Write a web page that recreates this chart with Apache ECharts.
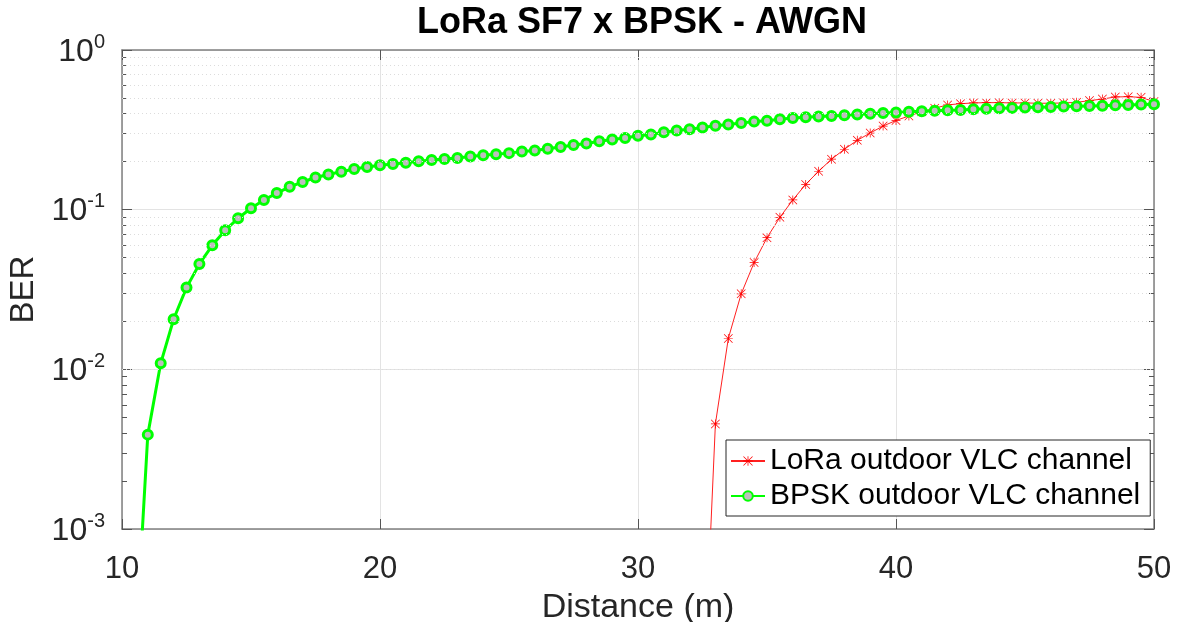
<!DOCTYPE html>
<html>
<head>
<meta charset="utf-8">
<script src="https://cdn.jsdelivr.net/npm/echarts@6/dist/echarts.min.js"></script>
<style>
html,body{margin:0;padding:0;background:#fff;}
#chart{width:1189px;height:622px;}
</style>
</head>
<body>
<div id="chart"></div>
<script>
// ---------------- data ----------------
const titleText = 'LoRa SF7 x BPSK - AWGN';
const xName = 'Distance (m)';
const yName = 'BER';
const seriesNames = ['LoRa outdoor VLC channel', 'BPSK outdoor VLC channel'];

const xTicks = [10, 20, 30, 40, 50];
const yMajorTicks = [0.001, 0.01, 0.1, 1];
const yMinorTicks = [0.002, 0.003, 0.004, 0.005, 0.006, 0.007, 0.008, 0.009,
                     0.02, 0.03, 0.04, 0.05, 0.06, 0.07, 0.08, 0.09,
                     0.2, 0.3, 0.4, 0.5, 0.6, 0.7, 0.8, 0.9];

// BPSK (green)
const distBPSK = [10.5, 11, 11.5, 12, 12.5, 13, 13.5, 14, 14.5, 15,
                  15.5, 16, 16.5, 17, 17.5, 18, 18.5, 19, 19.5, 20,
                  20.5, 21, 21.5, 22, 22.5, 23, 23.5, 24, 24.5, 25,
                  25.5, 26, 26.5, 27, 27.5, 28, 28.5, 29, 29.5, 30,
                  30.5, 31, 31.5, 32, 32.5, 33, 33.5, 34, 34.5, 35,
                  35.5, 36, 36.5, 37, 37.5, 38, 38.5, 39, 39.5, 40,
                  40.5, 41, 41.5, 42, 42.5, 43, 43.5, 44, 44.5, 45,
                  45.5, 46, 46.5, 47, 47.5, 48, 48.5, 49, 49.5, 50];
const berBPSK = [0.00015, 0.0039, 0.0109, 0.0206, 0.0325, 0.0457, 0.0598, 0.0743, 0.0883, 0.102,
                 0.115, 0.127, 0.139, 0.149, 0.159, 0.166, 0.173, 0.180, 0.185, 0.190,
                 0.193, 0.197, 0.201, 0.205, 0.208, 0.211, 0.215, 0.219, 0.222, 0.226,
                 0.231, 0.235, 0.241, 0.247, 0.254, 0.260, 0.268, 0.275, 0.281, 0.290,
                 0.296, 0.305, 0.313, 0.319, 0.327, 0.335, 0.342, 0.349, 0.356, 0.361,
                 0.368, 0.375, 0.379, 0.383, 0.386, 0.390, 0.394, 0.399, 0.403, 0.406,
                 0.411, 0.413, 0.417, 0.419, 0.421, 0.425, 0.428, 0.432, 0.434, 0.436,
                 0.438, 0.440, 0.442, 0.444, 0.446, 0.448, 0.450, 0.453, 0.455, 0.457];

// LoRa (red)
const distLoRa = [32.5, 33, 33.5, 34, 34.5, 35, 35.5, 36, 36.5, 37,
                  37.5, 38, 38.5, 39, 39.5, 40, 40.5, 41, 41.5, 42,
                  42.5, 43, 43.5, 44, 44.5, 45, 45.5, 46, 46.5, 47,
                  47.5, 48, 48.5, 49, 49.5, 50];
const berLoRa = [0.000067, 0.00455, 0.0156, 0.0297, 0.0466, 0.0668, 0.0896, 0.115, 0.144, 0.174,
                 0.207, 0.239, 0.272, 0.302, 0.334, 0.362, 0.386, 0.411, 0.432, 0.453,
                 0.461, 0.466, 0.468, 0.468, 0.466, 0.466, 0.464, 0.464, 0.466, 0.470,
                 0.482, 0.493, 0.508, 0.510, 0.505, 0.475];

// ---------------- styling ----------------
const FONT = 'Liberation Sans, Arial, Helvetica, sans-serif';
const TXT = '#262626';
const AXIS = '#808080';
const MAJORGRID = '#e3e3e3';
const MINORGRID = '#dcdcdc';

const asterisk = 'path://M9.2 0h1.6v20h-1.6z M0 9.2h20v1.6h-20z M1.1 0L20 18.9L18.9 20L0 1.1z M18.9 0L20 1.1L1.1 20L0 18.9z';

function logLabel(v) {
  const e = Math.round(Math.log10(v));
  return '{b|10}{s|' + e + '}';
}

const xMin = xTicks[0], xMax = xTicks[xTicks.length - 1];
const yMin = yMajorTicks[0], yMax = yMajorTicks[yMajorTicks.length - 1];

function yAxisBase(extra) {
  return Object.assign({
    type: 'log', logBase: 10, min: yMin, max: yMax, gridIndex: 0
  }, extra);
}

const option = {
  backgroundColor: '#ffffff',
  animation: false,
  title: {
    text: titleText,
    left: 642, top: 5, textAlign: 'center', padding: 0,
    textStyle: { fontFamily: FONT, fontSize: 36, fontWeight: 'bold', color: '#000' }
  },
  grid: { left: 122, right: 35, top: 50, bottom: 93, containLabel: false, outerBoundsMode: 'none' },
  legend: {
    orient: 'vertical',
    left: 726, top: 440,
    padding: [6, 10, 5, 4],
    itemGap: 5,
    itemWidth: 34, itemHeight: 12,
    backgroundColor: '#fff',
    borderColor: '#262626', borderWidth: 1,
    textStyle: { fontFamily: FONT, fontSize: 30, color: '#000' },
    data: seriesNames
  },
  xAxis: [
    {
      type: 'value', min: xMin, max: xMax, interval: 10, position: 'bottom',
      name: xName, nameLocation: 'middle', nameGap: 62,
      nameTextStyle: { fontFamily: FONT, fontSize: 34, color: TXT },
      axisLine: { show: true, onZero: false, lineStyle: { color: AXIS, width: 1.5 } },
      axisTick: { show: true, inside: true, length: 10, lineStyle: { color: '#555', width: 1 } },
      axisLabel: { fontFamily: FONT, fontSize: 31, color: TXT, margin: 25 },
      splitLine: { show: true, lineStyle: { color: MAJORGRID, width: 1 } }
    },
    {
      type: 'value', min: xMin, max: xMax, interval: 10, position: 'top',
      axisLine: { show: true, onZero: false, lineStyle: { color: AXIS, width: 1.5 } },
      axisTick: { show: true, inside: true, length: 10, lineStyle: { color: '#555', width: 1 } },
      axisLabel: { show: false },
      splitLine: { show: false }
    }
  ],
  yAxis: [
    yAxisBase({
      position: 'left',
      name: yName, nameLocation: 'middle', nameGap: 80,
      nameTextStyle: { fontFamily: FONT, fontSize: 33, color: TXT },
      axisLine: { show: true, lineStyle: { color: AXIS, width: 1.5 } },
      axisTick: { show: true, inside: true, length: 10, lineStyle: { color: '#555', width: 1 } },
      axisLabel: {
        margin: 17,
        formatter: logLabel,
        rich: {
          b: { fontFamily: FONT, fontSize: 32, color: TXT, lineHeight: 36, verticalAlign: 'bottom' },
          s: { fontFamily: FONT, fontSize: 20, color: TXT, lineHeight: 20, verticalAlign: 'top' }
        }
      },
      splitLine: { show: true, lineStyle: { color: MAJORGRID, width: 1 } }
    }),
    yAxisBase({
      position: 'right',
      axisLine: { show: true, lineStyle: { color: AXIS, width: 1.5 } },
      axisTick: { show: true, inside: true, length: 10, lineStyle: { color: '#555', width: 1 } },
      axisLabel: { show: false },
      splitLine: { show: false }
    }),
    yAxisBase({
      position: 'left',
      axisLine: { show: false },
      axisTick: { show: true, inside: true, length: 5, customValues: yMinorTicks, lineStyle: { color: '#555', width: 1 } },
      axisLabel: { show: false },
      splitLine: { show: false }
    }),
    yAxisBase({
      position: 'right',
      axisLine: { show: false },
      axisTick: { show: true, inside: true, length: 5, customValues: yMinorTicks, lineStyle: { color: '#555', width: 1 } },
      axisLabel: { show: false },
      splitLine: { show: false }
    })
  ],
  series: [
    {
      name: seriesNames[0],
      type: 'line',
      xAxisIndex: 0, yAxisIndex: 0,
      data: distLoRa.map((d, i) => [d, berLoRa[i]]),
      symbol: asterisk,
      symbolSize: 9,
      showAllSymbol: true,
      clip: true,
      lineStyle: { color: '#ff2020', width: 1 },
      itemStyle: { color: '#ff0000', borderWidth: 0 },
      z: 3,
      markLine: {
        silent: true,
        symbol: ['none', 'none'],
        label: { show: false },
        animation: false,
        lineStyle: { color: MINORGRID, type: [1, 3], width: 1 },
        data: yMinorTicks.map(v => ({ yAxis: v }))
      }
    },
    {
      name: seriesNames[1],
      type: 'line',
      xAxisIndex: 0, yAxisIndex: 0,
      data: distBPSK.map((d, i) => [d, berBPSK[i]]),
      symbol: 'circle',
      symbolSize: 9,
      showAllSymbol: true,
      clip: true,
      lineStyle: { color: '#00ff00', width: 3 },
      itemStyle: { color: '#bdbdbd', borderColor: '#00ff00', borderWidth: 3 },
      z: 4
    }
  ]
};

const chart = echarts.init(document.getElementById('chart'), null, { renderer: 'canvas' });
chart.setOption(option);
</script>
</body>
</html>
